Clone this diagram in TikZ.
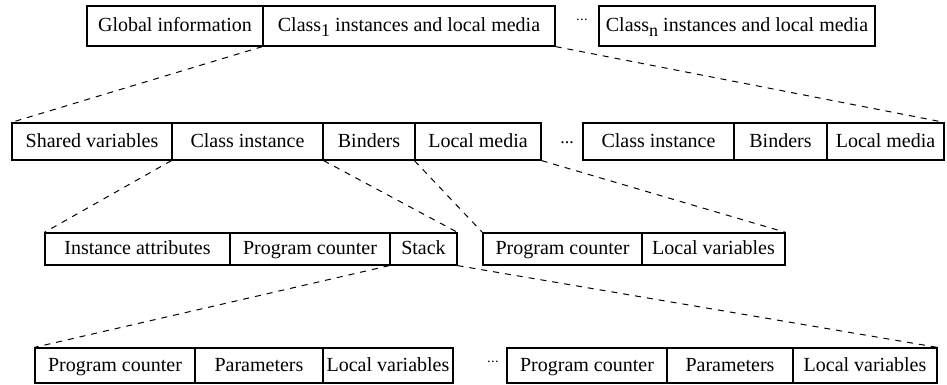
\documentclass[tikz,border=0pt]{standalone}
\usepackage{fontspec}
\setmainfont{Liberation Serif}
\usetikzlibrary{fit}

\tikzset{
  cell/.style={draw, line width=0.6pt, inner sep=0pt},
  celltext/.style={inner sep=0pt, text height=1.55ex, text depth=0.3ex,
                   font=\fontsize{10}{12}\selectfont},
  link/.style={dashed, line width=0.5pt},
  gap/.style={inner sep=0pt, font=\fontsize{10}{12}\selectfont}
}
% one framed cell spanning two corners, with its label centred inside
\newcommand\cellbox[6]{%
  \node[cell, fit={(#2,#3) (#4,#5)}] (#1) {};
  \node[celltext] (#1-t) at (#1.center) {#6};}
\newcommand\subidx[1]{\raisebox{-0.55ex}{\fontsize{9}{10}\selectfont #1}}
\newcommand\hidots{\raisebox{0.45ex}{\fontsize{7}{8}\selectfont\textperiodcentered\kern-0.05em\textperiodcentered\kern-0.05em\textperiodcentered}}

\begin{document}
\begin{tikzpicture}[x=0.5pt, y=-0.5pt]
  \useasboundingbox (0,0) rectangle (947,385);

  % top level: global information and the per-class parts
  \cellbox{g}{87}{6}{263}{46}{Global information}
  \cellbox{c1}{263}{6}{555}{46}{Class\subidx{1} instances and local media}
  \node[gap] (d1) at (582,24) {\hidots};
  \cellbox{cn}{599}{6}{875}{46}{Class\subidx{n} instances and local media}

  % contents of one class part
  \cellbox{sv}{12}{123}{172}{160}{Shared variables}
  \cellbox{ci}{172}{123}{323}{160}{Class instance}
  \cellbox{bd}{323}{123}{415}{160}{Binders}
  \cellbox{lm}{415}{123}{541}{160}{Local media}
  \node[gap] (d2) at (567,143) {\fontsize{9}{10}\selectfont...};
  \cellbox{ciB}{583}{123}{734}{160}{Class instance}
  \cellbox{bdB}{734}{123}{827}{160}{Binders}
  \cellbox{lmB}{827}{123}{944}{160}{Local media}

  % contents of a class instance and of a local medium
  \cellbox{ia}{45}{233}{230}{265}{Instance attributes}
  \cellbox{pc}{230}{233}{390}{265}{Program counter}
  \cellbox{st}{390}{233}{457}{265}{Stack}
  \cellbox{pcM}{483}{233}{642}{265}{Program counter}
  \cellbox{lvM}{642}{233}{785}{265}{Local variables}

  % stack frames
  \cellbox{pcA}{35}{348}{195}{383}{Program counter}
  \cellbox{paA}{195}{348}{323}{383}{Parameters}
  \cellbox{lvA}{323}{348}{453}{383}{Local variables}
  \node[gap] (d3) at (493,366) {\hidots};
  \cellbox{pcB}{507}{348}{667}{383}{Program counter}
  \cellbox{paB}{667}{348}{793}{383}{Parameters}
  \cellbox{lvB}{793}{348}{937}{383}{Local variables}

  % expansion lines
  \draw[link] (c1.south west) -- (sv.north west);
  \draw[link] (c1.south east) -- (lmB.north east);
  \draw[link] (ci.south west) -- (ia.north west);
  \draw[link] (ci.south east) -- (st.north east);
  \draw[link] (lm.south west) -- (pcM.north west);
  \draw[link] (lm.south east) -- (lvM.north east);
  \draw[link] (st.south west) -- (pcA.north west);
  \draw[link] (st.south east) -- (lvB.north east);
\end{tikzpicture}
\end{document}
